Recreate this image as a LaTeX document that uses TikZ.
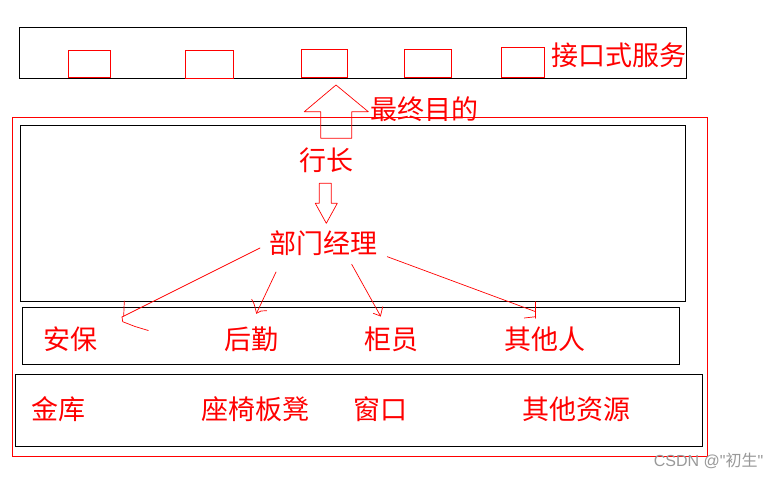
\documentclass[tikz,border=0pt]{standalone}
\usepackage{fontspec}
\newfontfamily\cjk{Noto Sans CJK SC}
\newfontfamily\lat{Liberation Sans}
\begin{document}
\begin{tikzpicture}[x=1pt,y=-1pt,
  blackbox/.style={draw=black,line width=1pt,inner sep=0pt,anchor=north west},
  redbox/.style={draw=red,line width=0.8pt,inner sep=0pt,anchor=north west},
  lbl/.style={text=red,font=\cjk\fontsize{27}{27}\selectfont,inner sep=0pt},
  redline/.style={draw=red,line width=0.7pt,line join=round,line cap=round}]
\useasboundingbox (0,0) rectangle (780,479);
\fill[white] (0,0) rectangle (780,479);
% boxes
\node[blackbox,minimum width=667pt,minimum height=51pt] (top) at (19,27) {};
\node[redbox,minimum width=42pt,minimum height=27pt] (s1) at (68,50) {};
\node[redbox,minimum width=48pt,minimum height=28pt] (s2) at (185,50) {};
\node[redbox,minimum width=46pt,minimum height=28pt] (s3) at (301,49) {};
\node[redbox,minimum width=47pt,minimum height=28pt] (s4) at (404,49) {};
\node[redbox,minimum width=43pt,minimum height=30pt] (s5) at (501,47) {};
\node[redbox,minimum width=695pt,minimum height=339pt] (org) at (12,117) {};
\node[blackbox,minimum width=665pt,minimum height=176pt] (mgmt) at (20,125) {};
\node[blackbox,minimum width=657pt,minimum height=57pt] (staff) at (22,307) {};
\node[blackbox,minimum width=687pt,minimum height=72pt] (res) at (15,374) {};
% labels
\node[lbl] (svc) at (619,55) {接口式服务};
\node[lbl] (goal) at (424,109) {最终目的};
\node[lbl] (boss) at (326,160) {行长};
\node[lbl] (mgr) at (323,243) {部门经理};
\node[lbl] (sec) at (70,339) {安保};
\node[lbl] (log) at (251.5,339) {后勤};
\node[lbl] (tel) at (391,339) {柜员};
\node[lbl] (oth) at (545,339) {其他人};
\node[lbl] (vault) at (58.5,409) {金库};
\node[lbl] (seat) at (255,409) {座椅板凳};
\node[lbl] (win) at (380,409) {窗口};
\node[lbl] (ores) at (576.5,409) {其他资源};
\node[text=black!40,font=\lat\fontsize{16}{16}\selectfont,inner sep=0pt] (wm) at (708.5,461) {CSDN @"{\cjk 初生}"};
% hollow up arrow
\draw[redline] (320.7,138.3) -- (320.7,111.7) -- (304.3,111.7) -- (336,85) -- (368.3,111.7) -- (351.7,111.7) -- (351.7,138.3) -- cycle;
% hollow down arrow
\draw[redline] (319.3,183.3) -- (331.3,183.3) -- (331.3,203.3) -- (337.3,203.3) -- (326.3,223.3) -- (315.3,203.3) -- (319.3,203.3) -- cycle;
% connectors from manager
\coordinate (a1s) at (260,248); \coordinate (a1e) at (122,317);
\coordinate (a2s) at (276,272); \coordinate (a2e) at (256.5,313.3);
\coordinate (a3s) at (351.7,264.3); \coordinate (a3e) at (380.5,316);
\coordinate (a4s) at (387.3,256.7); \coordinate (a4e) at (535.7,311.7);
\draw[redline] (a1s) -- (a1e);
\draw[redline] (124.3,301) -- (123.7,316);
\draw[redline] (a1e) -- (122.7,321.7) -- (135,326.5) -- (148.3,330.5);
\draw[redline] (a2s) -- (a2e);
\draw[redline] (251.7,299.3) .. controls (254,303) .. (a2e) -- (261,311) -- (266.7,310.7);
\draw[redline] (a3s) -- (a3e);
\draw[redline] (382.7,306.7) -- (a3e) -- (373.3,313.3);
\draw[redline] (a4s) -- (a4e);
\draw[redline] (535.7,301.7) -- (535.7,318.3);
\draw[redline] (524.3,318) -- (535.7,316.7);
\end{tikzpicture}
\end{document}
